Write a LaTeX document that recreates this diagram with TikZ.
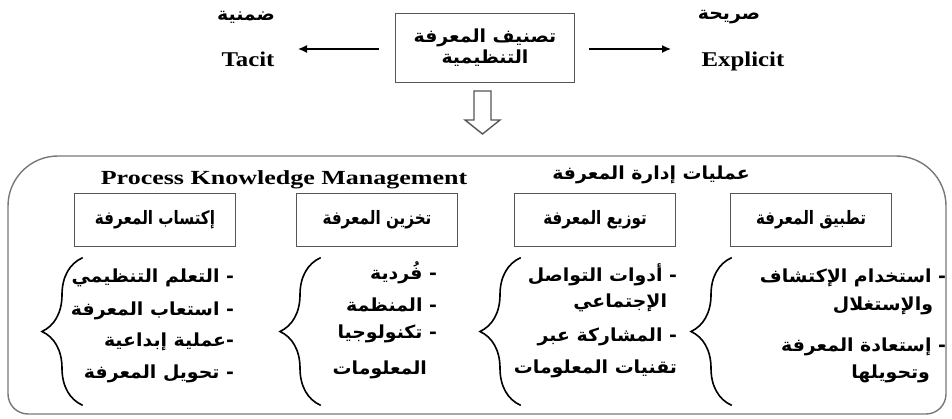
\documentclass[tikz,border=0pt]{standalone}
\usepackage{fontspec}
\setmainfont{Liberation Serif}
\newfontfamily\latinwide[FakeStretch=1.18]{Liberation Serif}
\newfontfamily\arabicfont[Script=Arabic,FakeStretch=0.82]{DejaVu Sans}
\newfontfamily\arabicwide[Script=Arabic,FakeStretch=1.05]{DejaVu Sans}
\TeXXeTstate=1
\usetikzlibrary{decorations.pathreplacing,arrows.meta}

\newcommand\artext[1]{{\arabicfont\bfseries\beginR #1\endR}}
\newcommand\arwide[1]{{\arabicwide\bfseries\beginR #1\endR}}

\begin{document}
\begin{tikzpicture}[x=1pt,y=-1pt,line cap=rect,
  catbox/.style={draw=custcol_gray, line width=1.5pt, minimum width=161pt, minimum height=53pt, inner sep=0,
    font=\fontsize{18.5pt}{20pt}\selectfont},
  itemtext/.style={inner sep=0, outer sep=0, anchor=east, font=\fontsize{18pt}{20pt}\selectfont},
  headtext/.style={inner sep=0, outer sep=0, font=\fontsize{18pt}{20pt}\selectfont},
  latinlabel/.style={inner sep=0, outer sep=0, anchor=base, font=\fontsize{21pt}{21pt}\latinwide\bfseries},
  brace/.style={decorate, decoration={brace, amplitude=40pt}, line width=1.6pt},
  arr/.style={line width=1.3pt, -{Latex[length=9pt,width=8pt]}}]
\useasboundingbox (0,0) rectangle (952,419);
\definecolor{custcol_0_0_0}{RGB}{0, 0, 0}
\definecolor{custcol_gray}{RGB}{85, 85, 85}
\definecolor{custcol_frame}{RGB}{120, 120, 120}
% classification at the top
\node[catbox, minimum width=179pt, minimum height=69pt, align=center, font=\fontsize{18pt}{19pt}\selectfont] (kc) at (485,48)
  {\arwide{تصنيف المعرفة}\\[2pt]\arwide{التنظيمية}};
\node[headtext] (tacitar) at (246,17) {\arwide{ضمنية}};
\node[latinlabel] (tacit) at (248,67) {Tacit};
\node[headtext] (explar) at (729,17) {\arwide{صريحة}};
\node[latinlabel] (explicit) at (743,67) {Explicit};
\coordinate (tacitend) at (298,49);
\coordinate (explend) at (671,49);
\draw[arr] ([xshift=-16pt]kc.west |- tacitend) -- (tacitend);
\draw[arr] ([xshift=14pt]kc.east |- explend) -- (explend);
% hollow arrow down
\draw[custcol_gray, line width=1.4pt, line cap=butt, line join=miter]
  (474,91) -- (491,91) -- (491,120) -- (500,120) -- (482.5,134) -- (465,120) -- (474,120) -- cycle;
% frame of the processes
\draw[custcol_frame, line width=1.4pt] (8,300) [rounded corners=50pt] -- (8,156) -- (946,156) -- (946,300)
  [rounded corners=20pt] -- (946,414) -- (8,414) -- cycle;
\node[latinlabel, font=\fontsize{20pt}{20pt}\bfseries] (pkm) at (284,185)
  {\addfontfeatures{FakeStretch=1.3}Process Knowledge Management};
\node[headtext] (pkmar) at (651,175) {\arwide{عمليات إدارة المعرفة}};
% the four processes
\node[catbox] (acq) at (155,220) {\artext{إكتساب المعرفة}};
\node[catbox] (sto) at (377,220) {\artext{تخزين المعرفة}};
\node[catbox] (dis) at (595,220) {\artext{توزيع المعرفة}};
\node[catbox] (app) at (811,220) {\artext{تطبيق المعرفة}};
% braces
\draw[brace] (82,405) -- (82,258);
\draw[brace] (320,405) -- (320,258);
\draw[brace] (520,405) -- (520,258);
\draw[brace] (731,405) -- (731,258);
% acquisition
\node[itemtext] (acq1) at (234,278) {\arwide{- التعلم التنظيمي}};
\node[itemtext] (acq2) at (234,311) {\arwide{- استعاب المعرفة}};
\node[itemtext] (acq3) at (234,342) {\arwide{-عملية إبداعية}};
\node[itemtext] (acq4) at (234,374) {\arwide{- تحويل المعرفة}};
% storage
\node[itemtext] (sto1) at (437,273) {\arwide{- فُردية}};
\node[itemtext] (sto2) at (437,305) {\arwide{- المنظمة}};
\node[itemtext] (sto3) at (437,334) {\arwide{- تكنولوجيا}};
\node[itemtext] (sto4) at (427,370) {\arwide{المعلومات}};
% distribution
\node[itemtext] (dis1) at (677,275) {\arwide{- أدوات التواصل}};
\node[itemtext] (dis2) at (667,303) {\arwide{الإجتماعي}};
\node[itemtext] (dis3) at (677,337) {\arwide{- المشاركة عبر}};
\node[itemtext] (dis4) at (677,369) {\arwide{تقنيات المعلومات}};
% application
\node[itemtext] (app1) at (946,278) {\arwide{- استخدام الإكتشاف}};
\node[itemtext] (app2) at (933,306) {\arwide{والإستغلال}};
\node[itemtext] (app3) at (946,347) {\arwide{- إستعادة المعرفة}};
\node[itemtext] (app4) at (930,374) {\arwide{وتحويلها}};
\end{tikzpicture}
\end{document}
